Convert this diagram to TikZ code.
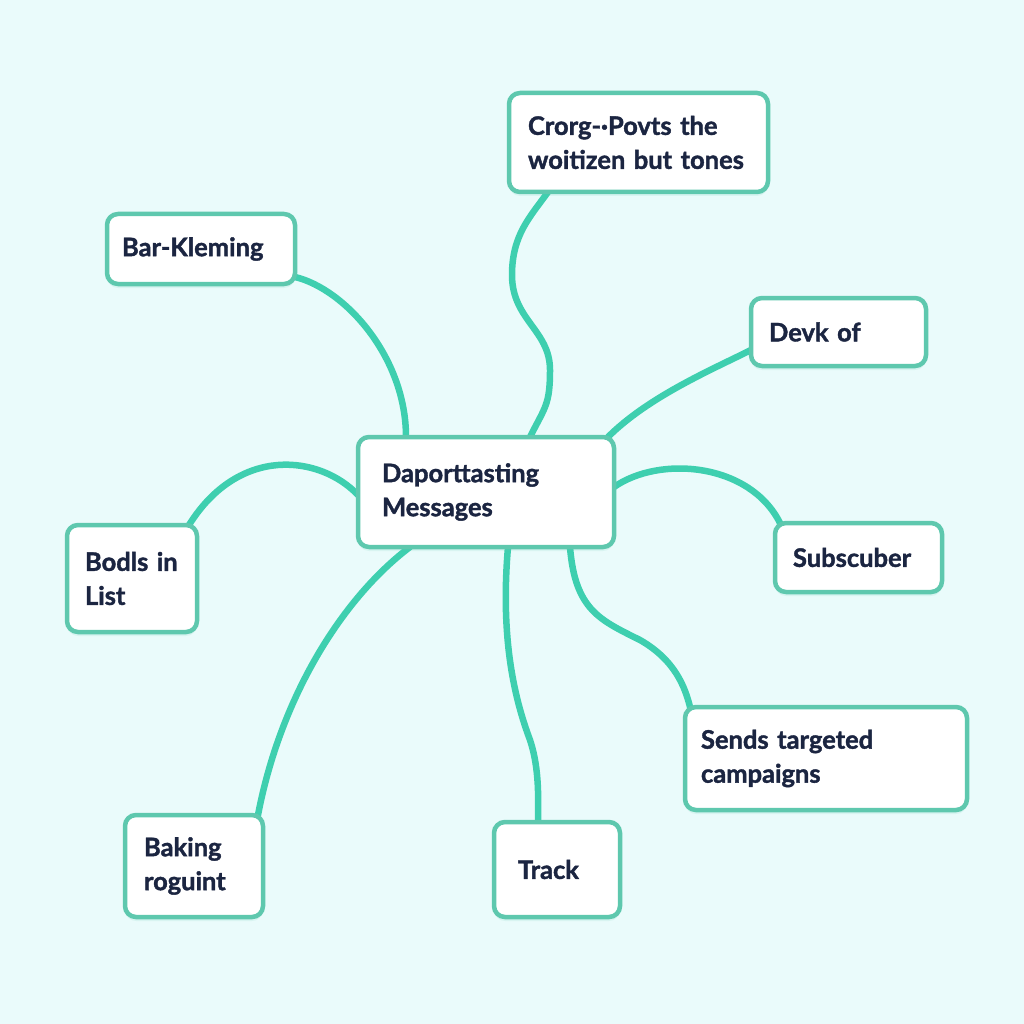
\documentclass[tikz,border=0pt]{standalone}
\usepackage{fontspec}
\setmainfont{Lato}[FakeBold=1.5]
\usetikzlibrary{shadows}
\definecolor{bg}{HTML}{EAFBFB}
\definecolor{bord}{HTML}{5EC8AE}
\definecolor{conn}{HTML}{3ECFAF}
\definecolor{ink}{HTML}{1B2541}
\pgfdeclarelayer{back}
\pgfdeclarelayer{links}
\pgfsetlayers{back,links,main}
\tikzset{
  mbox/.style={draw=bord, line width=4.5pt, rounded corners=11pt, fill=white,
    align=left, text=ink, font=\fontsize{25.5}{34}\selectfont\bfseries, inner ysep=2pt, outer sep=0pt,
    drop shadow={shadow xshift=0pt, shadow yshift=-4pt, opacity=0.12, fill=bord}},
  link/.style={draw=conn, line width=6.5pt, line cap=round}
}
\begin{document}
\begin{tikzpicture}[x=1pt,y=-1pt]
\begin{pgfonlayer}{back}
\fill[bg] (0,0) rectangle (1024,1024);
\end{pgfonlayer}
\useasboundingbox (0,0) rectangle (1024,1024);
% boxes
\node[mbox, minimum width=259pt, minimum height=99pt, inner xsep=19pt, text width=221pt] (top) at (638.5,142.5) {Crorg-·Povts the\\woitizen but tones};
\node[mbox, minimum width=188pt, minimum height=70pt, inner xsep=15pt, text width=158pt] (bar) at (201,249) {Bar-Kleming};
\node[mbox, minimum width=256pt, minimum height=110pt, inner xsep=24pt, text width=208pt] (c) at (486,492) {Daporttasting\\Messages};
\node[mbox, minimum width=175pt, minimum height=68pt, inner xsep=18pt, text width=139pt] (devk) at (838.5,332) {Devk of};
\node[mbox, minimum width=130pt, minimum height=107pt, inner xsep=18pt, text width=94pt] (bodls) at (132,578.5) {Bodls in\\List};
\node[mbox, minimum width=167pt, minimum height=69pt, inner xsep=18pt, text width=131pt] (subs) at (858.5,557.5) {Subscuber};
\node[mbox, minimum width=282pt, minimum height=103pt, inner xsep=16pt, text width=250pt] (sends) at (826,758.5) {Sends targeted\\campaigns};
\node[mbox, minimum width=138pt, minimum height=102pt, inner xsep=19pt, text width=100pt] (baking) at (194,866) {Baking\\roguint};
\node[mbox, minimum width=126pt, minimum height=95pt, inner xsep=24pt, text width=78pt] (track) at (557,869.5) {Track};
% connectors (behind boxes)
\begin{pgfonlayer}{links}
\draw[link] ([xshift=172pt]c.north west) .. controls +(15,-30) and +(0,35) .. (550,370) .. controls +(0,-40) and +(0,45) .. (512,275) .. controls +(0,-40) and +(-18,25) .. ([xshift=39pt]top.south west);
\draw[link] ([yshift=7pt]bar.south east) .. controls +(50,12) and +(0,-80) .. ([xshift=48pt]c.north west);
\draw[link] ([xshift=-6pt]c.north east) .. controls +(40,-40) and +(-40,20) .. ([yshift=16pt]devk.south west);
\draw[link] ([yshift=-58pt]c.north west) .. controls +(-38,-40) and +(50,-80) .. ([xshift=-8pt]bodls.north east);
\draw[link] ([yshift=-50pt]c.north east) .. controls +(46,-32) and +(-30,-60) .. ([xshift=5pt]subs.north west);
\draw[link] ([xshift=212pt]c.south west) .. controls +(5,63) and +(-40,-20) .. (640,640) .. controls +(35,20) and +(-5,-20) .. ([xshift=5pt]sends.north west);
\draw[link] ([xshift=150pt]c.south west) .. controls +(-8,93) and +(-15,-40) .. (530,740) .. controls +(10,30) and +(0,-20) .. ([xshift=44pt]track.north west);
\draw[link] ([xshift=52pt]c.south west) .. controls +(-70,53) and +(22,-115) .. ([xshift=-5pt]baking.north east);
\end{pgfonlayer}
\end{tikzpicture}
\end{document}
